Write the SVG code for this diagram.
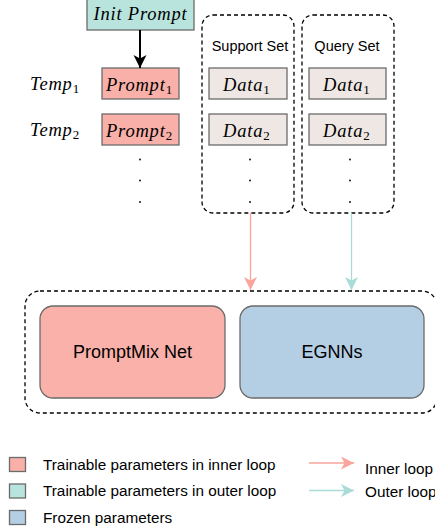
<svg xmlns="http://www.w3.org/2000/svg" width="435" height="531" viewBox="0 0 435 531">
<style>
.math{font-family:"Liberation Serif","Times New Roman",serif;font-style:italic;font-size:18.5px;letter-spacing:0.8px;fill:#000}
.sub{font-family:"Liberation Serif","Times New Roman",serif;font-style:normal;font-size:13px;letter-spacing:0}
.sans{font-family:"Liberation Sans",Arial,sans-serif;fill:#000}
.box{stroke:#6b6b6b;stroke-width:1.3}
.prompt{fill:#f9b0a8}
.data{fill:#efe7e4}
.dash{fill:none;stroke:#000;stroke-width:1.3;stroke-dasharray:4 3}
.dot{fill:#000}
</style>
<defs>
<marker id="ab" markerUnits="userSpaceOnUse" markerWidth="14" markerHeight="14" refX="13" refY="6.5" orient="auto">
<path d="M0,0 L13,6.5 L0,13 L3.5,6.5 z" fill="#000"/>
</marker>
<marker id="as" markerUnits="userSpaceOnUse" markerWidth="14" markerHeight="14" refX="13" refY="6.5" orient="auto">
<path d="M0,0 L13,6.5 L0,13 L3.5,6.5 z" fill="#f9a59b"/>
</marker>
<marker id="at" markerUnits="userSpaceOnUse" markerWidth="14" markerHeight="14" refX="13" refY="6.5" orient="auto">
<path d="M0,0 L13,6.5 L0,13 L3.5,6.5 z" fill="#a9dcd7"/>
</marker>
</defs>
<rect width="435" height="531" fill="#fff"/>

<g id="init-prompt">
<rect class="box" x="87" y="-3" width="107" height="33" fill="#b9e3dd"/>
<text class="math" x="140.5" y="19.5" text-anchor="middle">Init Prompt</text>
</g>

<g id="temp1"><text class="math" x="30" y="90">Temp<tspan class="sub" dy="3">1</tspan></text></g>
<g id="temp2"><text class="math" x="30" y="136">Temp<tspan class="sub" dy="3">2</tspan></text></g>

<g id="prompt1">
<rect class="box prompt" x="102" y="68" width="77" height="31"/>
<text class="math" x="106" y="91">Prompt<tspan class="sub" dy="3">1</tspan></text>
</g>
<g id="prompt2">
<rect class="box prompt" x="102" y="114" width="77" height="31"/>
<text class="math" x="106" y="137">Prompt<tspan class="sub" dy="3">2</tspan></text>
</g>
<g id="prompt-dots">
<circle class="dot" cx="140" cy="159.5" r="0.9"/>
<circle class="dot" cx="140" cy="180.5" r="0.9"/>
<circle class="dot" cx="140" cy="202" r="0.9"/>
</g>

<g id="support-set">
<rect class="dash" x="202" y="15" width="92" height="198" rx="11"/>
<text class="sans" x="250" y="51" font-size="14.5" text-anchor="middle">Support Set</text>
<g id="support-data1">
<rect class="box data" x="209" y="68" width="78" height="31"/>
<text class="math" x="223" y="91">Data<tspan class="sub" dy="3">1</tspan></text>
</g>
<g id="support-data2">
<rect class="box data" x="209" y="114" width="78" height="31"/>
<text class="math" x="223" y="137">Data<tspan class="sub" dy="3">2</tspan></text>
</g>
<circle class="dot" cx="250" cy="159.5" r="0.9"/>
<circle class="dot" cx="250" cy="180.5" r="0.9"/>
<circle class="dot" cx="250" cy="202" r="0.9"/>
</g>

<g id="query-set">
<rect class="dash" x="302" y="15" width="92" height="198" rx="11"/>
<text class="sans" x="347" y="51" font-size="14.5" text-anchor="middle">Query Set</text>
<g id="query-data1">
<rect class="box data" x="309" y="68" width="77" height="31"/>
<text class="math" x="323" y="91">Data<tspan class="sub" dy="3">1</tspan></text>
</g>
<g id="query-data2">
<rect class="box data" x="309" y="114" width="77" height="31"/>
<text class="math" x="323" y="137">Data<tspan class="sub" dy="3">2</tspan></text>
</g>
<circle class="dot" cx="350" cy="159.5" r="0.9"/>
<circle class="dot" cx="350" cy="180.5" r="0.9"/>
<circle class="dot" cx="350" cy="202" r="0.9"/>
</g>

<g id="model-group">
<rect class="dash" x="25" y="291" width="412" height="122" rx="15"/>
<g id="promptmix-net">
<rect class="box" x="40" y="306" width="185" height="92" rx="13" fill="#f9b1a9"/>
<text class="sans" x="132.5" y="358" font-size="18" text-anchor="middle">PromptMix Net</text>
</g>
<g id="egnns">
<rect class="box" x="240" y="306" width="184" height="92" rx="13" fill="#b4cee3"/>
<text class="sans" x="332" y="358" font-size="18" text-anchor="middle">EGNNs</text>
</g>
</g>

<g id="connectors">
<line x1="140" y1="30" x2="140" y2="68" stroke="#000" stroke-width="2" marker-end="url(#ab)"/>
<line x1="250.5" y1="213" x2="250.5" y2="290" stroke="#f9a59b" stroke-width="1.3" marker-end="url(#as)"/>
<line x1="351.5" y1="213" x2="351.5" y2="290" stroke="#a9dcd7" stroke-width="1.3" marker-end="url(#at)"/>
</g>

<g id="legend">
<rect class="box" x="9.5" y="457.5" width="16" height="14" fill="#f9b0a8"/>
<rect class="box" x="9.5" y="484" width="16" height="14" fill="#b9e3dd"/>
<rect class="box" x="9.5" y="510.5" width="16" height="14" fill="#b4cee3"/>
<text class="sans" x="43" y="469.5" font-size="15.3">Trainable parameters in inner loop</text>
<text class="sans" x="43" y="495.5" font-size="15.3">Trainable parameters in outer loop</text>
<text class="sans" x="43" y="522.5" font-size="15.3">Frozen parameters</text>
<line x1="309" y1="463" x2="354" y2="463" stroke="#f9a59b" stroke-width="1.3" marker-end="url(#as)"/>
<line x1="309" y1="490.5" x2="354" y2="490.5" stroke="#a9dcd7" stroke-width="1.3" marker-end="url(#at)"/>
<text class="sans" x="365" y="473.5" font-size="15.3">Inner loop</text>
<text class="sans" x="365" y="496.5" font-size="15.3">Outer loop</text>
</g>
</svg>
